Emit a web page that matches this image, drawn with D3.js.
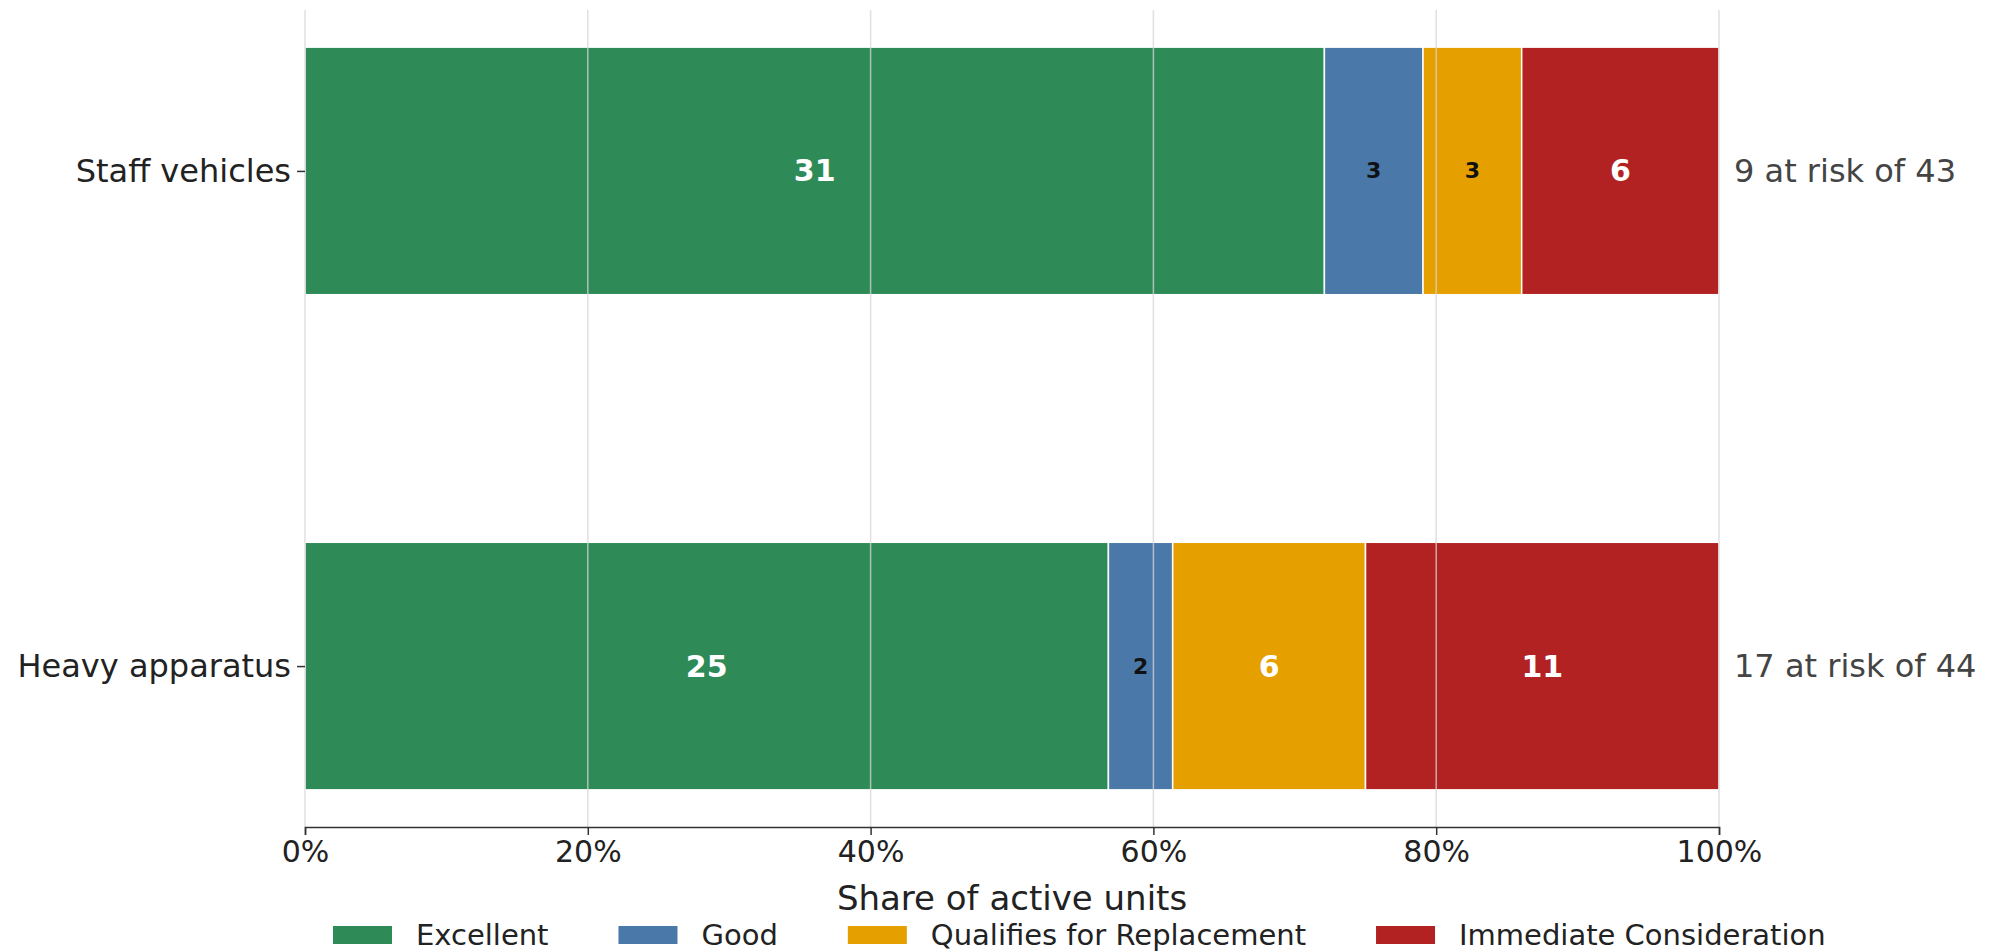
<!DOCTYPE html>
<html>
<head>
<meta charset="utf-8">
<script src="https://cdn.jsdelivr.net/npm/d3@7/dist/d3.min.js"></script>
<style>
  html, body { margin: 0; padding: 0; background: #fff; }
  svg { display: block; font-family: "DejaVu Sans", sans-serif; }
</style>
</head>
<body>
<svg id="chart" width="1995" height="951"></svg>
<script>
// Fleet condition by unit class (counts of active units)
const categories = ["Staff vehicles", "Heavy apparatus"];
const conditions = ["Excellent", "Good", "Qualifies for Replacement", "Immediate Consideration"];
const excellent = [31, 25];
const good = [3, 2];
const qualifies = [3, 6];
const immediate = [6, 11];
const xTickValues = [0, 0.2, 0.4, 0.6, 0.8, 1.0];
const colors = ["#2E8B57", "#4A78A8", "#E5A000", "#B22222"];

const W = 1995, H = 951;
const margin = { left: 305, right: 276, top: 10, bottom: 124 };
const plotBottom = H - margin.bottom;

const svg = d3.select("#chart");

// rows: one record per unit class with counts per condition
const rows = categories.map((c, i) => {
  const counts = [excellent[i], good[i], qualifies[i], immediate[i]];
  const total = d3.sum(counts);
  const rec = { category: c, index: categories.length - 1 - i, total, atRisk: qualifies[i] + immediate[i] };
  conditions.forEach((k, j) => { rec[k] = counts[j] / total; rec[k + "_n"] = counts[j]; });
  return rec;
});

const x = d3.scaleLinear().domain([0, 1]).range([margin.left, W - margin.right]);
// bars sit at integer positions with half-unit height, padded like a default barh plot
const y = d3.scaleLinear().domain([-0.325, categories.length - 1 + 0.325]).range([plotBottom, margin.top]);
const barH = y(0) - y(0.5);

const stack = d3.stack().keys(conditions);
const series = stack(rows);

// stacked segments
const gBars = svg.append("g");
series.forEach((s, j) => {
  gBars.selectAll(null)
    .data(s)
    .join("rect")
    .attr("x", d => x(d[0]))
    .attr("width", d => x(d[1]) - x(d[0]))
    .attr("y", d => y(d.data.index) - barH / 2)
    .attr("height", barH)
    .attr("fill", colors[j])
    .attr("stroke", "#fff")
    .attr("stroke-width", 1.5);
});

// vertical grid lines drawn over the bars
svg.append("g")
  .selectAll("line")
  .data(xTickValues)
  .join("line")
  .attr("x1", d => x(d)).attr("x2", d => x(d))
  .attr("y1", margin.top).attr("y2", plotBottom)
  .attr("stroke", "#d6d6d6")
  .attr("stroke-opacity", 0.75)
  .attr("stroke-width", 1.5);

// count labels inside each segment
series.forEach((s, j) => {
  svg.append("g")
    .selectAll("text")
    .data(s)
    .join("text")
    .attr("x", d => (x(d[0]) + x(d[1])) / 2)
    .attr("y", d => y(d.data.index))
    .attr("text-anchor", "middle")
    .attr("dominant-baseline", "central")
    .attr("font-weight", "bold")
    .attr("font-size", d => (d[1] - d[0]) < 0.1 ? 22 : 30)
    .attr("fill", d => (d[1] - d[0]) < 0.1 ? "#111" : "#fff")
    .text(d => d.data[conditions[j] + "_n"]);
});

// at-risk summaries to the right of each bar
svg.append("g")
  .selectAll("text")
  .data(rows)
  .join("text")
  .attr("x", x(1) + 15)
  .attr("y", d => y(d.index))
  .attr("dominant-baseline", "central")
  .attr("font-size", 32)
  .attr("fill", "#444")
  .text(d => `${d.atRisk} at risk of ${d.total}`);

// x axis
const xAxis = d3.axisBottom(x)
  .tickValues(xTickValues)
  .tickFormat(d3.format(".0%"))
  .tickSize(8)
  .tickPadding(6);
const gx = svg.append("g").attr("transform", `translate(0,${plotBottom})`).call(xAxis);
gx.select(".domain").attr("stroke", "#333").attr("stroke-width", 1.5);
gx.selectAll(".tick line").attr("stroke", "#333").attr("stroke-width", 1.5);
gx.selectAll(".tick text").attr("font-size", 30).attr("fill", "#222").attr("font-family", "DejaVu Sans");

// y axis (tick marks and labels only)
const yAxis = d3.axisLeft(y)
  .tickValues(rows.map(r => r.index))
  .tickFormat(v => rows.find(r => r.index === v).category)
  .tickSize(8)
  .tickPadding(6);
const gy = svg.append("g").attr("transform", `translate(${margin.left},0)`).call(yAxis);
gy.select(".domain").remove();
gy.selectAll(".tick line").attr("stroke", "#333").attr("stroke-width", 1.5);
gy.selectAll(".tick text").attr("font-size", 32).attr("fill", "#222").attr("font-family", "DejaVu Sans");

// axis title
svg.append("text")
  .attr("x", (x(0) + x(1)) / 2)
  .attr("y", 898)
  .attr("text-anchor", "middle")
  .attr("dominant-baseline", "central")
  .attr("font-size", 34)
  .attr("fill", "#222")
  .text("Share of active units");

// legend, one row below the axis title
const legend = svg.append("g").attr("transform", "translate(333,935)");
let lx = 0;
conditions.forEach((k, j) => {
  const g = legend.append("g").attr("transform", `translate(${lx},0)`);
  g.append("rect").attr("x", 0).attr("y", -9).attr("width", 59).attr("height", 18).attr("fill", colors[j]);
  const t = g.append("text")
    .attr("x", 83)
    .attr("y", 0)
    .attr("dominant-baseline", "central")
    .attr("font-size", 29)
    .attr("fill", "#222")
    .text(k);
  lx += 83 + t.node().getComputedTextLength() + 70;
});
</script>
</body>
</html>
